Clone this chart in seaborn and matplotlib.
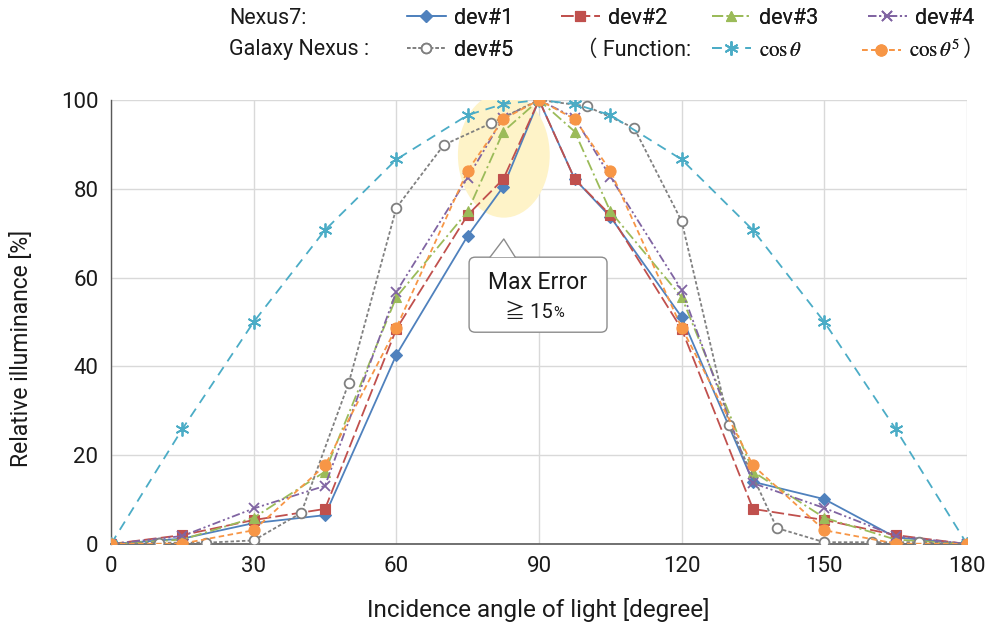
import matplotlib
matplotlib.use('Agg')
import matplotlib.pyplot as plt
import seaborn as sns
import pandas as pd
from matplotlib.patches import Ellipse, FancyBboxPatch, Polygon

# ── data ──────────────────────────────────────────────────────
angle_15 = [0, 15, 30, 45, 60, 75, 82.5, 90, 97.5, 105, 120, 135, 150, 165, 180]
angle_10 = [0, 10, 20, 30, 40, 50, 60, 70, 80, 90, 100, 110, 120, 130, 140, 150, 160, 170, 180]

dev1 = [0, 1.2, 4.7, 6.5, 42.6, 69.4, 80.5, 100, 82.2, 73.7, 51.1, 14.0, 10.1, 1.5, 0]
dev2 = [0, 2.0, 5.4, 7.9, 48.4, 74.1, 82.2, 100, 82.2, 74.1, 48.4, 7.9, 5.4, 2.0, 0]
dev3 = [0, 1.0, 5.9, 16.3, 55.6, 74.9, 92.9, 100, 92.9, 74.9, 55.6, 16.3, 5.9, 1.0, 0]
dev4 = [0, 1.8, 8.0, 13.1, 56.8, 82.5, 96.0, 100, 96.0, 82.7, 57.2, 13.7, 8.1, 1.8, 0]
dev5 = [0, 0.3, 0.3, 0.8, 7.0, 36.3, 75.7, 89.9, 94.8, 100, 98.6, 93.7, 72.7, 26.8, 3.6, 0.4, 0.4, 0.4, 0]
cos_1 = [0, 25.9, 50.0, 70.7, 86.6, 96.6, 99.1, 100, 99.1, 96.6, 86.6, 70.7, 50.0, 25.9, 0]
cos_5 = [0, 0.1, 3.1, 17.7, 48.7, 84.1, 95.7, 100, 95.7, 84.1, 48.7, 17.7, 3.1, 0.1, 0]

x_ticks = [0, 30, 60, 90, 120, 150, 180]
y_ticks = [0, 20, 40, 60, 80, 100]

# ── style ─────────────────────────────────────────────────────
sns.set_style('white')
plt.rcParams['font.family'] = ['Roboto', 'Noto Sans CJK JP', 'DejaVu Sans']
plt.rcParams['mathtext.fontset'] = 'stix'
plt.rcParams['lines.scale_dashes'] = False
FS = 16
LEG_FS = 15.5
TXT = '#1a1a1a'

SERIES = [
    # label, x, y, color, marker, ms, dashes, face
    ('dev#1', angle_15, dev1, '#4F81BD', 'D', 6.0, None, None),
    ('dev#2', angle_15, dev2, '#C0504D', 's', 7.0, (9, 3), None),
    ('dev#3', angle_15, dev3, '#9BBB59', '^', 7.5, (8, 2.5, 1.5, 2.5), None),
    ('dev#4', angle_15, dev4, '#8064A2', 'x', 7.5, (6, 2, 1.5, 2, 1.5, 2), None),
    ('dev#5', angle_10, dev5, '#808080', 'o', 7.0, (2.5, 1.6), 'white'),
    (r'$\cos\theta$', angle_15, cos_1, '#4BACC6', (6, 2, 0), 10.0, (7, 5), None),
    (r'$\cos\theta^5$', angle_15, cos_5, '#F79646', 'o', 8.0, (4, 2.5), None),
]

fig = plt.figure(figsize=(9.87, 6.30), dpi=100)
ax = fig.add_axes([111 / 987, 1 - 544 / 630, 856 / 987, 444 / 630])

handles = []
for label, xs, ys, color, marker, ms, dashes, face in SERIES:
    df = pd.DataFrame({'x': xs, 'y': ys})
    kw = dict(color=color, marker=marker, markersize=ms, linewidth=1.3,
              markeredgecolor=color, markerfacecolor=face or color,
              markeredgewidth=1.3 if marker in ('x', (6, 2, 0)) or face else 0.8)
    if dashes is not None:
        kw['linestyle'] = (0, dashes)
    sns.lineplot(data=df, x='x', y='y', ax=ax, estimator=None, sort=False,
                 legend=False, zorder=3, **kw)
    line = ax.lines[-1]
    line.set_label(label)
    handles.append(line)

# highlight ellipse around the max-error region
ax.add_patch(Ellipse((82.6, 87.6), 19.3, 28.2, facecolor='#FEF3C8',
                     edgecolor='none', zorder=1.5))

# callout box
ax.add_patch(FancyBboxPatch((75.3, 47.7), 29.0, 16.9,
                            boxstyle='round,pad=0,rounding_size=1.3',
                            facecolor='white', edgecolor='#8c8c8c', lw=1.0, zorder=5))
ax.add_patch(Polygon([(79.7, 64.6), (82.6, 68.7), (85.0, 64.6)], closed=True,
                     facecolor='white', edgecolor='none', zorder=5.5))
ax.plot([79.7, 82.6, 85.0], [64.6, 68.7, 64.6], color='#8c8c8c', lw=1.0, zorder=5.6)
ax.text(89.8, 59.0, 'Max Error', ha='center', va='center', fontsize=16.5, color=TXT, zorder=6)
ax.text(92.8, 52.2, '≧ 15', ha='right', va='center', fontsize=14.5, color=TXT, zorder=6)
ax.text(93.1, 52.0, '%', ha='left', va='center', fontsize=10.5, color=TXT, zorder=6)

# axes
ax.set_xlim(0, 180)
ax.set_ylim(0, 100)
ax.set_xticks(x_ticks)
ax.set_yticks(y_ticks)
ax.tick_params(length=0, labelsize=FS, labelcolor=TXT, pad=9)
ax.grid(True, color='#d9d9d9', linewidth=1.0, zorder=0)
ax.set_axisbelow(True)
for s in ('top', 'right'):
    ax.spines[s].set_visible(False)
ax.spines['left'].set_color('#595959')
ax.spines['bottom'].set_color('#595959')
ax.spines['left'].set_linewidth(1.0)
ax.spines['bottom'].set_linewidth(1.2)
ax.set_xlabel('Incidence angle of light [degree]', fontsize=17.5, color=TXT, va='center')
ax.set_ylabel('Relative illuminance [%]', fontsize=16.5, color=TXT, va='center')
ax.xaxis.set_label_coords((538.5 - 111) / 856, (544 - 610) / 444)
ax.yaxis.set_label_coords((22 - 111) / 856, (544 - 348) / 444)

# legend, laid out entry by entry like the original
def add_entry(handle, x_px, y_px, size=LEG_FS):
    leg = fig.legend(handles=[handle], loc='center left',
                     bbox_to_anchor=(x_px / 987, 1 - y_px / 630),
                     frameon=False, fontsize=size, borderpad=0, borderaxespad=0,
                     handlelength=39 / (size * 1.389), handletextpad=8 / (size * 1.389),
                     numpoints=1)
    for t in leg.get_texts():
        t.set_color(TXT)
    fig.add_artist(leg)

row1, row2 = 18, 50
for h, x in zip(handles[:4], [407, 561, 712, 868]):
    add_entry(h, x, row1)
add_entry(handles[4], 407, row2)
add_entry(handles[5], 712, row2, size=15)
add_entry(handles[6], 862, row2, size=15)

fig.text(229 / 987, 1 - row1 / 630, 'Nexus7:', fontsize=LEG_FS, color=TXT, va='center')
fig.text(229 / 987, 1 - row2 / 630, 'Galaxy Nexus :', fontsize=LEG_FS, color=TXT, va='center')
fig.text(576 / 987, 1 - row2 / 630, '（ Function:', fontsize=LEG_FS, color=TXT, va='center')
fig.text(985 / 987, 1 - row2 / 630, '）', fontsize=LEG_FS, color=TXT, va='center', ha='right')

fig.savefig('out.png', dpi=100)
